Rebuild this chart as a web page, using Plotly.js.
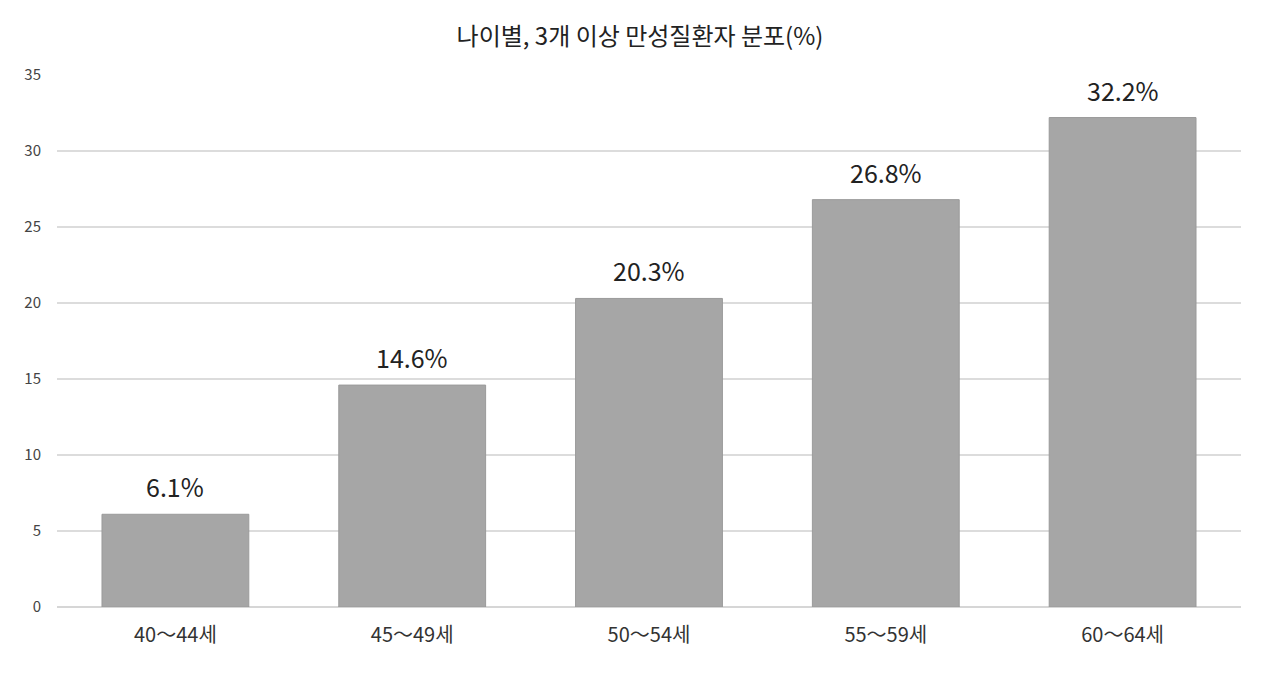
<!DOCTYPE html>
<html>
<head>
<meta charset="utf-8">
<script src="https://cdn.plot.ly/plotly-3.0.1.min.js"></script>
<style>
  html, body { margin: 0; padding: 0; background: #fff; }
  #chart { width: 1280px; height: 686px; }
</style>
</head>
<body>
<div id="chart"></div>
<script>
const ageGroups = ['40～44세', '45～49세', '50～54세', '55～59세', '60～64세']
const shares = [6.1, 14.6, 20.3, 26.8, 32.2]
const yTicks = [0, 5, 10, 15, 20, 25, 30, 35]

const font = '"Noto Sans CJK KR", "Noto Sans", sans-serif'

const bars = {
    type: 'bar',
    x: ageGroups,
    y: shares,
    marker: { color: '#a6a6a6', line: { color: '#9a9a9a', width: 1 } },
    hoverinfo: 'x+y',
}

// value labels above each bar
const labels = ageGroups.map((g, i) => ({
    x: g,
    y: shares[i],
    text: shares[i].toFixed(1) + '%',
    showarrow: false,
    yanchor: 'bottom',
    yshift: 8,
    font: { family: font, size: 25, color: '#222' },
}))

const layout = {
    width: 1280,
    height: 686,
    margin: { l: 57, r: 39, t: 75, b: 79 },
    paper_bgcolor: '#fff',
    plot_bgcolor: '#fff',
    bargap: 0.38,
    showlegend: false,
    title: {
        text: '나이별, 3개 이상 만성질환자 분포(%)',
        font: { family: font, size: 24, color: '#222' },
        x: 0.5,
        xanchor: 'center',
        y: 1 - 37 / 686,
        yanchor: 'middle',
        yref: 'container',
    },
    xaxis: {
        tickfont: { family: font, size: 20, color: '#333' },
        ticks: '',
        showline: false,
        showgrid: false,
        ticklabelstandoff: 14,
    },
    yaxis: {
        range: [0, 35],
        tickvals: yTicks,
        tickfont: { family: font, size: 15, color: '#444' },
        gridcolor: '#dcdcdc',
        gridwidth: 1.5,
        zeroline: true,
        zerolinecolor: '#d6d6d6',
        zerolinewidth: 1.5,
        ticks: '',
        ticklabelstandoff: 15,
    },
    annotations: labels,
}

Plotly.newPlot('chart', [bars], layout, { displayModeBar: false, staticPlot: true })
</script>
</body>
</html>
